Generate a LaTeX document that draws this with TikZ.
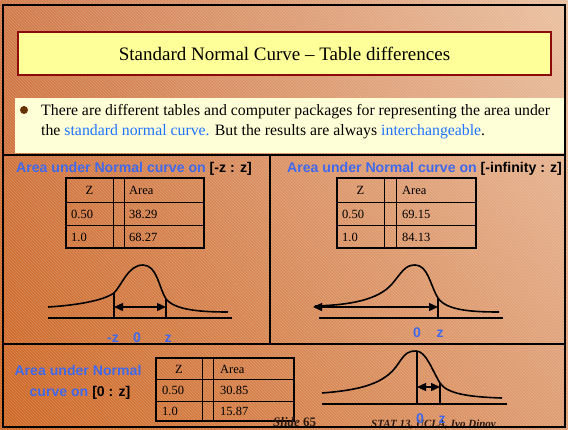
\documentclass[tikz,border=0pt]{standalone}
\usepackage{fontspec}
\setmainfont{Liberation Serif}
\setsansfont{Liberation Sans}
\usetikzlibrary{arrows.meta,patterns,shadings}
\definecolor{titlefill}{RGB}{255,255,153}
\definecolor{titleedge}{RGB}{140,10,10}
\definecolor{notefill}{RGB}{255,255,215}
\definecolor{bulletbrown}{RGB}{102,51,0}
\definecolor{headblue}{RGB}{65,105,235}
\definecolor{linkblue}{RGB}{30,115,255}
\definecolor{footbrown}{RGB}{45,25,15}
\definecolor{bgtl}{RGB}{208,120,72}
\definecolor{bgtr}{RGB}{234,192,160}
\definecolor{bgbl}{RGB}{206,102,34}
\definecolor{bgbr}{RGB}{222,155,112}
\tikzset{
  panelhead/.style={font=\sffamily\bfseries\fontsize{14.1}{16}\selectfont,text=headblue,inner sep=0pt},
  axislabel/.style={font=\sffamily\bfseries\fontsize{14}{16}\selectfont,text=headblue,inner sep=0pt,anchor=base},
  cell/.style={font=\fontsize{12.5}{14}\selectfont,inner sep=0pt,anchor=base west},
  zcell/.style={font=\fontsize{12.5}{14}\selectfont,inner sep=0pt,anchor=base},
  bellcurve/.style={line width=1.6pt},
  axisline/.style={line width=1.3pt},
  tabouter/.style={line width=1.4pt},
  tabinner/.style={line width=0.9pt},
  frameline/.style={line width=1.6pt},
}
\begin{document}
\begin{tikzpicture}[x=1pt,y=-1pt,>={Triangle[length=9pt,width=8pt]}]
\useasboundingbox (0,0) rectangle (568,429);
% background
\shade[upper left=bgtl,upper right=bgtr,lower left=bgbl,lower right=bgbr] (0,0) rectangle (568,429);
\fill[pattern=north west lines,pattern color=white,opacity=0.22] (0,0) rectangle (568,429);

% title and note
\node[draw=titleedge,line width=1.5pt,fill=titlefill,minimum width=533pt,minimum height=43pt,inner sep=0pt,
      font=\fontsize{19}{22}\selectfont] (title) at (284.5,53.5) {Standard Normal Curve -- Table differences};
\fill[notefill] (15,98) rectangle (564,153);
\fill[bulletbrown] (24,110) circle (4);
\node[font=\fontsize{15.8}{18}\selectfont,inner sep=0pt,anchor=base west] (note1) at (41,115)
  {There are different tables and computer packages for representing the area under};
\node[font=\fontsize{15.8}{18}\selectfont,inner sep=0pt,anchor=base west] (note2) at (41,135)
  {the \textcolor{linkblue}{standard normal curve.} But the results are always \textcolor{linkblue}{interchangeable}.};

% panel [-z : z]
\node[panelhead,anchor=base west] (headA) at (16,172) {Area under Normal curve on \textcolor{black}{[-z : z]}};
\draw[tabouter] (66,178) rectangle (204,248);
\draw[tabinner] (113,178) -- (113,248) (124,178) -- (124,248) (66,202) -- (204,202) (66,225) -- (204,225);
\node[zcell] (zA) at (89.5,194) {Z};
\node[cell] (areaA) at (129,194) {Area};
\node[cell] (zA1) at (71,218) {0.50};
\node[cell] (pA1) at (129,218) {38.29};
\node[cell] (zA2) at (71,241) {1.0};
\node[cell] (pA2) at (129,241) {68.27};
\draw[bellcurve] (48,307) .. controls (80,305) and (104,300) .. (114,293)
  .. controls (122,285) and (128,265) .. (143,265)
  .. controls (157,265) and (159,288) .. (166,299)
  .. controls (175,310) and (200,312) .. (228,312);
\draw[axisline] (48,318) -- (232,318);
\coordinate (mzA) at (114,318);
\coordinate (pzA) at (166,318);
\draw[axisline] (mzA) -- (114,293);
\draw[axisline] (pzA) -- (166,299);
\draw[<->,axisline] ([yshift=11pt]mzA) -- ([yshift=11pt]pzA);
\node[axislabel] (lmzA) at (113,342) {-z};
\node[axislabel] (l0A) at (137,342) {0};
\node[axislabel] (lzA) at (168,342) {z};

% panel [-infinity : z]
\node[panelhead,anchor=base west] (headB) at (287,172) {Area under Normal curve on \textcolor{black}{[-infinity : z]}};
\draw[tabouter] (337,178) rectangle (476,248);
\draw[tabinner] (384,178) -- (384,248) (396,178) -- (396,248) (337,202) -- (476,202) (337,225) -- (476,225);
\node[zcell] (zB) at (360.5,194) {Z};
\node[cell] (areaB) at (402,194) {Area};
\node[cell] (zB1) at (342,218) {0.50};
\node[cell] (pB1) at (402,218) {69.15};
\node[cell] (zB2) at (342,241) {1.0};
\node[cell] (pB2) at (402,241) {84.13};
\draw[bellcurve] (315,306) .. controls (350,305) and (378,300) .. (392,284)
  .. controls (402,272) and (405,265) .. (415,265)
  .. controls (428,265) and (430,285) .. (438,298)
  .. controls (446,310) and (470,312) .. (499,312);
\draw[axisline] (319,318) -- (503,318);
\coordinate (pzB) at (438,318);
\coordinate (tailB) at (313,307);
\draw[axisline] (pzB) -- (438,298);
\draw[<->,axisline] (tailB) -- ([yshift=11pt]pzB);
\node[axislabel] (l0B) at (417,337) {0};
\node[axislabel] (lzB) at (440,337) {z};

% panel [0 : z]
\node[panelhead,anchor=base] (headC1) at (78,375) {Area under Normal};
\node[panelhead,anchor=base] (headC2) at (80,396) {curve on \textcolor{black}{[0 : z]}};
\draw[tabouter] (156,358) rectangle (294,421);
\draw[tabinner] (202,358) -- (202,421) (213,358) -- (213,421) (156,379) -- (294,379) (156,401) -- (294,401);
\node[zcell] (zC) at (179,373) {Z};
\node[cell] (areaC) at (220,373) {Area};
\node[cell] (zC1) at (162,394.5) {0.50};
\node[cell] (pC1) at (220,394.5) {30.85};
\node[cell] (zC2) at (162,415.5) {1.0};
\node[cell] (pC2) at (220,415.5) {15.87};
\draw[bellcurve] (322,393) .. controls (360,390) and (385,384) .. (398,364)
  .. controls (406,352) and (409,351) .. (416,351)
  .. controls (426,351) and (432,370) .. (440,383)
  .. controls (447,394) and (470,397) .. (502,398);
\draw[axisline] (322,404) -- (507,404);
\coordinate (zeroC) at (417,404);
\coordinate (pzC) at (440,404);
\draw[axisline] (zeroC) -- (417,351);
\draw[axisline] (pzC) -- (440,383);
\draw[<->,axisline] ([yshift=17pt]zeroC) -- ([yshift=17pt]pzC);

% footer
\node[font=\fontsize{13}{15}\selectfont,text=footbrown,inner sep=0pt,anchor=base west] (slide) at (273,426)
  {\textbf{\textit{Slide}} \textbf{65}};
\node[font=\fontsize{11}{13}\selectfont\bfseries\itshape,text=footbrown,inner sep=0pt,anchor=base west] (stat) at (371,427)
  {STAT 13, UCLA, Ivo Dinov};
\node[axislabel] (l0C) at (420,423) {0};
\node[axislabel] (lzC) at (442,423) {z};

% frame
\draw[frameline] (3,5) rectangle (565,427);
\draw[frameline] (3,155) -- (565,155);
\draw[frameline] (3,344) -- (565,344);
\draw[frameline] (270,155) -- (270,344);
\end{tikzpicture}
\end{document}
